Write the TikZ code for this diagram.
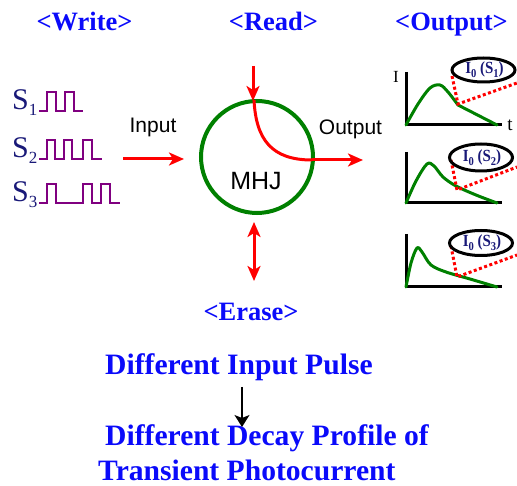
\documentclass[tikz,border=0pt]{standalone}
\usepackage{fontspec}
\setmainfont{Liberation Serif}
\setsansfont{Liberation Sans}
\usetikzlibrary{arrows.meta,shapes.geometric}
\definecolor{tblue}{RGB}{10,10,250}
\definecolor{navy}{RGB}{25,25,120}
\definecolor{pulsec}{RGB}{128,0,128}
\definecolor{cgreen}{RGB}{0,128,0}
\newcommand{\fs}[1]{\fontsize{#1}{#1}\selectfont}
\newcommand{\lowidx}[1]{\raisebox{-0.2em}{\fs{17}#1}}
\newcommand{\lowidxb}[1]{\raisebox{-0.25em}{\fs{12}#1}}
\newcommand{\taglab}[1]{\scalebox{0.88}[1]{I\lowidxb{0} (S\lowidxb{#1})}}
\tikzset{
  title/.style={font=\bfseries\fs{26.5}, text=tblue, inner sep=0pt, anchor=base},
  big/.style={font=\bfseries\fs{29.6}, text=tblue, inner sep=0pt, anchor=base west},
  sig/.style={font=\fs{30}, text=navy, inner sep=0pt, anchor=base west},
  lab/.style={font=\sffamily\fs{21}, inner sep=0pt, anchor=base},
  pulseline/.style={pulsec, line width=2.5pt, line join=miter},
  redarrow/.style={red, line width=3pt, -{Stealth[length=15pt,width=13pt,inset=4pt]}},
  axis/.style={black, line width=3pt, line join=miter},
  curve/.style={cgreen, line width=3pt, line join=round, line cap=round},
  dots/.style={red, line width=3pt, dash pattern=on 3pt off 2.5pt},
  tag/.style={draw=black, line width=3pt, ellipse, inner sep=0pt},
  taglabel/.style={font=\bfseries\fs{17}, text=navy, inner sep=0pt}
}
\begin{document}
\begin{tikzpicture}[x=1pt,y=-1pt]
\useasboundingbox (0,0) rectangle (517,486);

% titles
\node[title] (tw) at (84.5,31) {<Write>};
\node[title] (tr) at (273.5,31) {<Read>};
\node[title] (to) at (451.5,31) {<Output>};
\node[title] (te) at (251,321) {<Erase>};

% signals
\node[sig] (s1) at (12,110) {S\lowidx{1}};
\node[sig] (s2) at (12,158) {S\lowidx{2}};
\node[sig] (s3) at (12,202) {S\lowidx{3}};
\draw[pulseline] (39,111) -- (47,111) -- (47,92) -- (56,92) -- (56,111) -- (65,111) -- (65,92) -- (74,92) -- (74,111) -- (83,111);
\draw[pulseline] (39,159) -- (47,159) -- (47,140) -- (55,140) -- (55,159) -- (64,159) -- (64,140) -- (72,140) -- (72,159) -- (83,159) -- (83,140) -- (92,140) -- (92,159) -- (102,159);
\draw[pulseline] (39,203) -- (47,203) -- (47,184) -- (56,184) -- (56,203) -- (83,203) -- (83,184) -- (92,184) -- (92,203) -- (101,203) -- (101,184) -- (110,184) -- (110,203) -- (120,203);

% MHJ
\node[circle, draw=cgreen, line width=4pt, minimum size=112pt, inner sep=0pt] (mhj) at (257,157) {};
\node[font=\sffamily\fs{25}, inner sep=0pt, anchor=base] (mhjl) at (256,190) {MHJ};

% input
\node[lab] (inl) at (153,133) {Input};
\coordinate (inA) at (123,159);
\coordinate (inB) at (184,159);
\draw[redarrow] (inA) -- (inB);

% output
\node[lab] (outl) at (350.5,135) {Output};
\coordinate (rdA) at (253,66);
\coordinate (rdB) at (253,101);
\draw[redarrow] (rdA) -- (rdB);
\coordinate (ocA) at (254,100);
\coordinate (ocB) at (312,160);
\coordinate (ocC) at (363,160);
\draw[red, line width=3pt] (ocA) .. controls (256,140) and (272,160) .. (ocB);
\draw[redarrow] (ocB) -- (ocC);

% erase
\coordinate (erA) at (254,222);
\coordinate (erB) at (254,281);
\draw[red, line width=3pt, {Stealth[length=15pt,width=13pt,inset=4pt]}-{Stealth[length=15pt,width=13pt,inset=4pt]}] (erA) -- (erB);

% graph 1
\draw[axis] (406,72) -- (406,125) -- (502,125);
\node[font=\fs{17}, inner sep=0pt, anchor=base] (gi) at (396,83) {I};
\node[font=\fs{19}, inner sep=0pt, anchor=base] (gt) at (510,131) {t};
\draw[curve] plot[smooth, tension=0.55] coordinates {(406,125) (418,104) (430,88) (440,85) (448,92) (458,105)} -- (497,125);
\draw[dots] (452,76) -- (458,104) -- (517,83);
\node[tag, minimum width=63pt, minimum height=24pt] (e1) at (483.5,70) {};
\node[taglabel] (l1) at (484.5,70) {\taglab{1}};

% graph 2
\draw[axis] (406,152) -- (406,203) -- (502,203);
\draw[curve] plot[smooth, tension=0.55] coordinates {(406,203) (416,181) (427,164) (434,166) (443,177) (456,186) (476,195) (497,203)};
\draw[dots] (451,160) -- (457,190) -- (517,167);
\node[tag, minimum width=63pt, minimum height=27pt] (e2) at (481,157.5) {};
\node[taglabel] (l2) at (482,157.5) {\taglab{2}};

% graph 3
\draw[axis] (406,234) -- (406,287) -- (502,287);
\draw[curve] plot[smooth, tension=0.55] coordinates {(406,287) (411,263) (417,248) (422,252) (431,265) (446,272) (470,279) (497,287)};
\draw[dots] (451,246) -- (457,277) -- (517,255);
\node[tag, minimum width=63pt, minimum height=25pt] (e3) at (481,243) {};
\node[taglabel] (l3) at (482,243) {\taglab{3}};

% bottom text
\node[big] (b1) at (105,375) {Different Input Pulse};
\node[big] (b2) at (105,445) {Different Decay Profile of};
\node[big] (b3) at (98,480) {Transient Photocurrent};
\coordinate (bA) at (242,387);
\coordinate (bB) at (242,427);
\draw[black, line width=1.5pt, -{Stealth[length=12pt,width=15pt,inset=3pt]}] (bA) -- (bB);
\end{tikzpicture}
\end{document}
